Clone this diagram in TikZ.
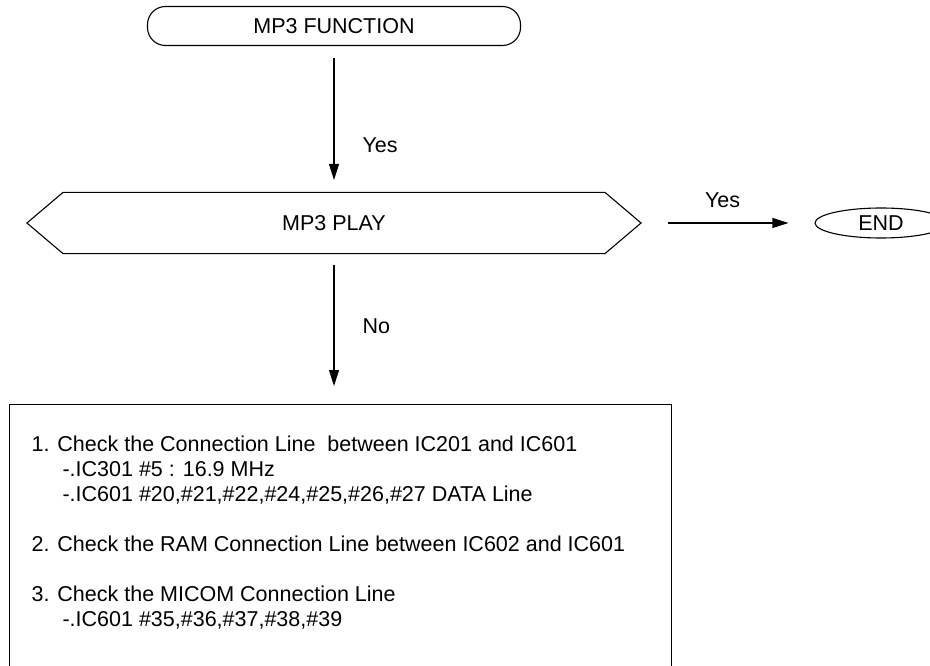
\documentclass[tikz,border=0pt]{standalone}
\usepackage{fontspec}
\setmainfont{Liberation Sans}
\usetikzlibrary{arrows.meta, shapes.geometric}

\begin{document}
\begin{tikzpicture}[x=1pt, y=-1pt, line width=1.1pt,
    every node/.style={font=\fontsize{21.5}{25}\selectfont},
    flow/.style={-{Triangle[length=16pt, width=10pt]}},
    lbl/.style={inner sep=0pt}]
  \useasboundingbox (0,0) rectangle (930,666);

  % Start
  \node[draw, rounded corners=18pt, minimum width=373pt, minimum height=39pt] (start) at (334,26) {MP3 FUNCTION};

  % Decision
  \node[inner sep=0pt, minimum width=541pt, minimum height=60pt] (play) at (334,223) {MP3 PLAY};
  \coordinate (playL) at ([xshift=-36pt]play.west);
  \coordinate (playR) at ([xshift=36pt]play.east);
  \draw (play.north west) -- (play.north east) -- (playR) -- (play.south east)
    -- (play.south west) -- (playL) -- cycle;

  % End
  \node[draw, ellipse, inner sep=0pt, minimum width=132pt, minimum height=30pt] (end) at (881,223) {END};

  % Checks
  \node[draw, anchor=north west, minimum width=662pt, minimum height=300pt] (check) at (9,404) {};
  \node[anchor=north west, align=left, inner sep=0pt] (steps) at (31,435) {%
    1. Check the Connection Line~ between IC201 and IC601\\
    \hspace*{31pt}-.IC301 \#5 : 16.9 MHz\\
    \hspace*{31pt}-.IC601 \#20,\#21,\#22,\#24,\#25,\#26,\#27 DATA Line\\[25pt]
    2. Check the RAM Connection Line between IC602 and IC601\\[25pt]
    3. Check the MICOM Connection Line\\
    \hspace*{31pt}-.IC601 \#35,\#36,\#37,\#38,\#39};

  % Connectors
  \draw[flow, shorten <=12pt, shorten >=12.5pt] (start) -- node[lbl, pos=0.68, right=28pt] {Yes} (play);
  \draw[flow, shorten <=27pt, shorten >=26pt] (playR) -- node[lbl, pos=0.47, above=15pt] {Yes} (end);
  \draw[flow, shorten <=11pt, shorten >=18pt] (play.south) -- node[lbl, pos=0.48, right=28pt] {No} (play.south |- check.north);
\end{tikzpicture}
\end{document}
